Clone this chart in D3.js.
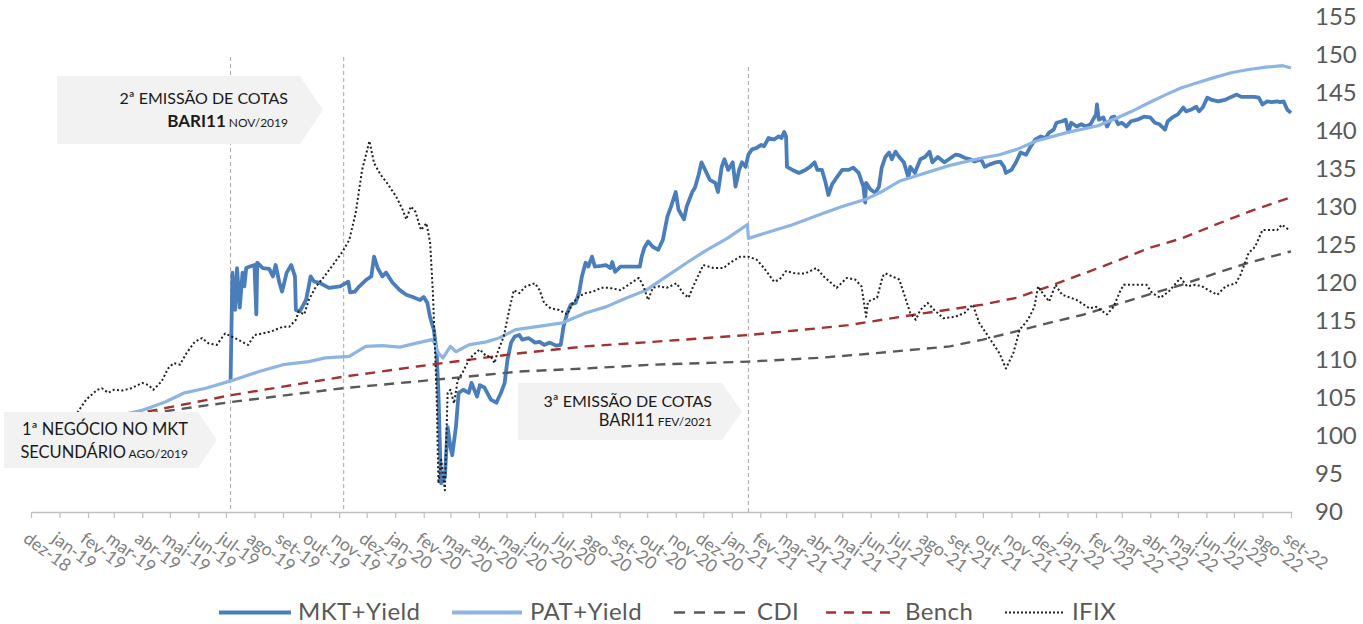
<!DOCTYPE html>
<html lang="pt-BR">
<head>
<meta charset="utf-8">
<title>BARI11 - MKT+Yield x PAT+Yield</title>
<script src="https://cdn.jsdelivr.net/npm/d3@7"></script>
<style>
  html, body { margin: 0; padding: 0; background: #fff; }
  svg { display: block; font-family: Lato, "Open Sans", "DejaVu Sans", sans-serif; }
</style>
</head>
<body>
<svg id="chart" width="1363" height="624"></svg>
<script>
//--------------------- data
const monthNames = ["jan","fev","mar","abr","mai","jun","jul","ago","set","out","nov","dez"];
const yTicks = [90, 95, 100, 105, 110, 115, 120, 125, 130, 135, 140, 145, 150, 155];

const mktDates = [
  "2019-07-06","2019-07-08","2019-07-11","2019-07-13","2019-07-16","2019-07-19","2019-07-21","2019-07-23","2019-07-27","2019-08-01",
  "2019-08-03","2019-08-04","2019-08-10","2019-08-17","2019-08-21","2019-08-24","2019-08-28","2019-08-31","2019-09-05","2019-09-10",
  "2019-09-14","2019-09-15","2019-09-19","2019-09-22","2019-09-26","2019-09-29","2019-10-01","2019-10-05","2019-10-10","2019-10-21",
  "2019-11-02","2019-11-11","2019-11-13","2019-11-18","2019-11-23","2019-12-01","2019-12-06","2019-12-09","2019-12-13","2019-12-18",
  "2019-12-22","2019-12-29","2020-01-06","2020-01-13","2020-01-20","2020-01-28","2020-02-01","2020-02-05","2020-02-08","2020-02-12",
  "2020-02-15","2020-02-17","2020-02-19","2020-02-20","2020-02-24","2020-02-27","2020-03-01","2020-03-03","2020-03-07","2020-03-10",
  "2020-03-15","2020-03-21","2020-03-24","2020-03-30","2020-04-02","2020-04-07","2020-04-14","2020-04-20","2020-04-25","2020-04-29",
  "2020-05-02","2020-05-06","2020-05-10","2020-05-15","2020-05-18","2020-05-25","2020-06-01","2020-06-06","2020-06-11","2020-06-17",
  "2020-06-24","2020-06-29","2020-07-02","2020-07-06","2020-07-10","2020-07-15","2020-07-19","2020-07-22","2020-07-26","2020-07-29",
  "2020-08-02","2020-08-05","2020-08-12","2020-08-17","2020-08-22","2020-08-24","2020-08-27","2020-09-02","2020-09-13","2020-09-23",
  "2020-09-25","2020-09-28","2020-10-02","2020-10-07","2020-10-13","2020-10-18","2020-10-23","2020-10-27","2020-11-01","2020-11-04",
  "2020-11-10","2020-11-13","2020-11-19","2020-11-22","2020-11-26","2020-11-29","2020-12-03","2020-12-08","2020-12-14","2020-12-17",
  "2020-12-21","2020-12-24","2020-12-28","2021-01-02","2021-01-05","2021-01-09","2021-01-12","2021-01-16","2021-01-19","2021-01-23",
  "2021-01-28","2021-02-02","2021-02-05","2021-02-10","2021-02-16","2021-02-21","2021-02-24","2021-02-27","2021-03-01","2021-03-02",
  "2021-03-08","2021-03-15","2021-03-22","2021-03-27","2021-04-01","2021-04-04","2021-04-09","2021-04-13","2021-04-16","2021-04-20",
  "2021-04-25","2021-05-01","2021-05-08","2021-05-13","2021-05-19","2021-05-24","2021-05-26","2021-05-27","2021-06-01","2021-06-06",
  "2021-06-10","2021-06-13","2021-06-17","2021-06-21","2021-06-24","2021-06-28","2021-07-02","2021-07-07","2021-07-12","2021-07-14",
  "2021-07-19","2021-07-25","2021-07-30","2021-08-04","2021-08-07","2021-08-13","2021-08-20","2021-08-25","2021-09-01","2021-09-06",
  "2021-09-11","2021-09-17","2021-09-22","2021-09-29","2021-10-03","2021-10-08","2021-10-15","2021-10-20","2021-10-24","2021-10-26",
  "2021-11-01","2021-11-06","2021-11-11","2021-11-17","2021-11-22","2021-11-27","2021-12-03","2021-12-08","2021-12-12","2021-12-17",
  "2021-12-20","2021-12-26","2021-12-30","2022-01-02","2022-01-05","2022-01-11","2022-01-16","2022-01-21","2022-01-26","2022-02-01",
  "2022-02-02","2022-02-04","2022-02-09","2022-02-13","2022-02-18","2022-02-21","2022-02-25","2022-03-01","2022-03-06","2022-03-11",
  "2022-03-18","2022-03-25","2022-04-01","2022-04-06","2022-04-11","2022-04-17","2022-04-20","2022-04-25","2022-05-01","2022-05-07",
  "2022-05-10","2022-05-15","2022-05-21","2022-05-24","2022-05-28","2022-06-02","2022-06-07","2022-06-14","2022-06-21","2022-06-28",
  "2022-07-04","2022-07-09","2022-07-16","2022-07-23","2022-07-28","2022-08-01","2022-08-06","2022-08-11","2022-08-17","2022-08-20",
  "2022-08-24","2022-08-28","2022-09-01"
];
const mktValues = [
  107.2,121.4,116.5,122.0,116.8,121.4,119.6,122.0,122.2,122.4,
  115.9,122.7,122.0,121.9,120.9,122.4,120.1,118.9,121.4,122.4,
  120.9,116.5,116.3,116.9,117.8,119.6,120.9,120.2,120.1,119.4,
  119.6,120.2,118.8,118.9,119.6,120.5,120.9,123.5,122.0,120.9,
  121.4,120.1,119.1,118.5,118.2,117.8,118.2,117.4,115.5,113.9,
  111.0,105.6,96.8,93.7,94.5,101.1,98.5,97.4,101.1,105.6,
  106.0,105.6,106.9,105.1,106.6,106.3,104.7,104.3,105.6,106.9,
  109.9,112.2,113.0,113.2,112.6,112.8,112.2,112.3,111.9,112.2,
  111.8,111.9,114.3,116.1,117.2,117.4,118.8,120.9,122.7,122.2,
  123.5,122.2,122.3,122.4,122.0,122.8,121.5,122.2,122.2,122.2,
  123.5,124.7,125.5,124.8,124.4,125.7,128.8,130.1,132.0,129.7,
  128.4,130.1,132.0,132.6,134.3,135.9,134.9,133.6,133.2,132.0,
  135.3,136.3,134.9,135.9,132.7,134.9,135.9,135.3,136.9,137.6,
  137.8,138.2,138.0,139.1,138.9,139.3,139.1,139.9,139.3,135.3,
  134.9,134.5,134.9,135.3,135.9,134.9,134.9,133.2,131.6,133.0,
  133.9,134.9,134.9,135.2,134.5,132.7,130.6,133.2,132.3,131.9,
  132.7,135.2,136.6,137.2,136.3,137.3,136.6,135.9,133.9,135.3,
  134.5,136.3,136.6,137.3,135.9,136.6,135.9,136.3,136.9,136.8,
  136.5,136.3,136.0,136.3,135.3,135.6,135.9,136.0,135.3,134.5,
  134.9,135.9,137.2,136.9,138.0,138.9,139.3,139.1,139.8,140.2,
  141.1,141.3,141.5,139.9,141.1,140.6,140.9,140.6,140.9,142.2,
  143.5,141.5,141.8,140.6,141.8,141.9,140.9,141.1,140.6,141.3,
  141.5,141.9,141.8,141.1,140.9,140.2,141.3,141.8,142.2,143.1,
  142.6,142.8,143.2,142.6,143.1,144.4,144.1,143.9,144.1,144.5,
  144.8,144.5,144.5,144.5,144.4,143.5,143.9,143.8,143.9,143.8,
  143.9,142.8,142.4
];

const patDates = [
  "2018-12-01","2019-04-01","2019-04-26","2019-05-17","2019-06-09","2019-07-07","2019-08-06","2019-09-01","2019-09-29","2019-10-17",
  "2019-11-12","2019-11-30","2019-12-18","2020-01-06","2020-01-23","2020-02-10","2020-02-13","2020-02-17","2020-02-22","2020-03-01",
  "2020-03-07","2020-03-21","2020-04-09","2020-04-23","2020-05-11","2020-06-03","2020-07-01","2020-07-26","2020-08-17","2020-09-09",
  "2020-09-30","2020-10-22","2020-11-13","2020-12-05","2020-12-27","2021-01-18","2021-01-19","2021-02-12","2021-03-08","2021-04-06",
  "2021-05-01","2021-05-26","2021-06-14","2021-07-02","2021-07-20","2021-08-26","2021-10-01","2021-10-19","2021-11-07","2021-11-28",
  "2021-12-31","2022-02-03","2022-02-23","2022-03-12","2022-03-30","2022-04-18","2022-05-05","2022-05-23","2022-06-11","2022-06-29",
  "2022-07-17","2022-08-05","2022-08-23","2022-09-01"
];
const patValues = [
  100.0,103.3,104.4,105.6,106.2,107.2,108.4,109.3,109.7,110.2,
  110.4,111.7,111.8,111.6,112.1,112.6,112.1,110.8,110.2,111.7,
  111.0,111.9,112.3,112.8,113.9,114.3,114.8,116.1,116.9,118.1,
  119.1,120.9,122.7,124.4,125.9,127.7,125.9,126.8,127.7,129.0,
  130.1,131.0,132.1,133.4,134.1,135.5,136.5,136.9,137.6,138.7,
  139.8,140.7,141.7,142.6,143.7,144.8,145.7,146.4,147.1,147.7,
  148.1,148.4,148.6,148.3
];

const cdiDates = [
  "2018-12-01","2019-04-15","2019-07-07","2019-11-05","2020-02-12","2020-05-15","2020-07-26","2020-10-07","2021-01-19","2021-04-06",
  "2021-05-27","2021-08-26","2021-10-01","2021-11-07","2021-12-12","2022-01-19","2022-02-23","2022-03-30","2022-05-05","2022-06-11",
  "2022-07-17","2022-09-01"
];
const cdiValues = [
  100.0,103.0,104.4,106.2,107.3,108.4,108.8,109.3,109.7,110.2,
  110.7,111.7,112.6,113.7,114.8,115.9,117.2,118.5,119.8,121.3,
  122.7,124.2
];

const benchDates = [
  "2018-12-01","2019-04-05","2019-07-07","2019-11-05","2020-01-27","2020-05-15","2020-07-26","2020-10-07","2021-01-19","2021-04-06",
  "2021-05-08","2021-07-20","2021-10-01","2021-11-07","2021-12-12","2022-01-19","2022-02-23","2022-03-30","2022-05-05","2022-06-11",
  "2022-07-17","2022-09-01"
];
const benchValues = [
  100.0,103.1,105.3,107.7,109.1,110.8,111.7,112.3,113.2,114.1,
  114.5,115.9,117.2,118.1,119.6,121.3,122.9,124.6,125.9,127.7,
  129.4,131.3
];

const ifixDates = [
  "2018-12-01","2019-01-08","2019-01-21","2019-01-30","2019-02-11","2019-02-16","2019-02-23","2019-03-01","2019-03-10","2019-03-20",
  "2019-04-01","2019-04-08","2019-04-13","2019-04-22","2019-04-29","2019-05-05","2019-05-12","2019-05-19","2019-05-28","2019-06-05",
  "2019-06-12","2019-06-21","2019-06-30","2019-07-07","2019-07-14","2019-07-25","2019-08-01","2019-08-10","2019-08-20","2019-09-01",
  "2019-09-08","2019-09-15","2019-09-18","2019-09-24","2019-09-29","2019-10-07","2019-10-16","2019-10-24","2019-11-05","2019-11-12",
  "2019-11-19","2019-11-26","2019-12-04","2019-12-09","2019-12-16","2019-12-23","2020-01-02","2020-01-09","2020-01-13","2020-01-18",
  "2020-01-23","2020-01-29","2020-02-04","2020-02-08","2020-02-11","2020-02-15","2020-02-17","2020-02-20","2020-02-24","2020-02-27",
  "2020-03-01","2020-03-05","2020-03-09","2020-03-14","2020-03-21","2020-03-26","2020-04-02","2020-04-09","2020-04-14","2020-04-18",
  "2020-04-21","2020-04-28","2020-05-04","2020-05-09","2020-05-15","2020-05-22","2020-06-01","2020-06-06","2020-06-11","2020-06-18",
  "2020-06-27","2020-07-06","2020-07-12","2020-07-19","2020-07-26","2020-08-03","2020-08-12","2020-08-21","2020-09-02","2020-09-13",
  "2020-09-22","2020-09-27","2020-10-02","2020-10-07","2020-10-14","2020-10-22","2020-11-02","2020-11-09","2020-11-15","2020-11-20",
  "2020-12-01","2020-12-12","2020-12-23","2020-12-30","2021-01-10","2021-01-19","2021-01-28","2021-02-05","2021-02-16","2021-02-22",
  "2021-03-01","2021-03-11","2021-03-22","2021-04-03","2021-04-11","2021-04-25","2021-05-06","2021-05-15","2021-05-22","2021-05-27",
  "2021-05-29","2021-06-08","2021-06-14","2021-06-17","2021-07-02","2021-07-07","2021-07-14","2021-07-20","2021-07-25","2021-08-02",
  "2021-08-09","2021-08-19","2021-09-01","2021-09-11","2021-09-20","2021-09-27","2021-10-08","2021-10-19","2021-10-26","2021-11-03",
  "2021-11-10","2021-11-19","2021-11-26","2021-11-30","2021-12-05","2021-12-12","2021-12-19","2021-12-26","2022-01-11","2022-01-25",
  "2022-02-01","2022-02-13","2022-02-20","2022-02-27","2022-03-03","2022-03-15","2022-03-28","2022-04-03","2022-04-12","2022-04-21",
  "2022-04-26","2022-05-04","2022-05-11","2022-05-20","2022-05-27","2022-06-06","2022-06-13","2022-06-22","2022-07-03","2022-07-08",
  "2022-07-13","2022-07-17","2022-07-24","2022-08-01","2022-08-08","2022-08-17","2022-08-22","2022-08-30"
];
const ifixValues = [
  100.0,101.5,103.1,104.7,106.0,106.2,105.6,106.0,105.9,106.2,
  106.9,106.6,106.0,107.1,108.8,109.5,109.3,110.8,112.3,112.8,
  112.1,111.9,113.4,113.0,112.6,111.9,113.2,113.4,113.7,114.3,
  114.3,115.2,116.3,115.9,117.8,119.6,120.9,122.2,124.2,125.7,
  129.2,134.9,138.7,135.8,134.3,133.2,131.4,129.7,128.4,130.1,
  129.4,127.0,127.9,125.3,118.7,105.6,93.7,96.8,92.8,105.6,
  106.0,104.2,107.3,108.2,109.9,110.6,111.3,110.4,110.4,109.5,
  110.8,113.0,116.5,119.1,118.7,119.6,120.0,119.1,117.4,116.7,
  116.5,115.9,117.4,118.3,118.7,118.9,119.4,119.4,119.1,120.0,
  120.7,119.6,117.8,119.4,119.6,119.4,120.0,118.7,118.1,119.6,
  122.4,122.0,122.0,122.7,123.5,123.5,123.1,122.0,120.2,120.5,
  121.6,121.3,121.3,122.0,120.9,119.4,120.7,120.5,119.6,115.6,
  117.6,118.1,120.9,121.3,120.5,118.7,116.1,115.2,116.5,117.4,
  116.5,115.4,115.6,116.1,117.2,114.8,112.8,110.8,108.8,110.8,
  113.9,115.2,116.9,119.6,118.7,117.6,119.8,118.5,117.8,116.7,
  116.9,115.9,116.9,118.9,119.8,119.8,119.8,118.7,118.1,118.9,
  119.6,120.7,119.6,119.8,119.6,118.9,118.5,119.6,120.0,121.1,
  122.7,124.0,124.8,127.0,127.0,127.0,127.7,127.0
];

// dates of the events marked with vertical lines
const eventDates = ["2019-07-06", "2019-11-06", "2021-01-19"];

//--------------------- setup
const parse = d3.utcParse("%Y-%m-%d");
const svg = d3.select("#chart");

const x = d3.scaleUtc()
  .domain([parse("2018-12-01"), parse("2022-09-01")])
  .range([31, 1291]);
const y = d3.scaleLinear()
  .domain([90, 155])
  .range([511.5, 17]);

const toPoints = (dates, values) => dates.map((d, i) => ({ date: parse(d), value: values[i] }));

const series = [
  { name: "MKT+Yield", data: toPoints(mktDates, mktValues),     color: "#4a7ebb", width: 3.8, dash: null },
  { name: "PAT+Yield", data: toPoints(patDates, patValues),     color: "#8eb4e3", width: 3.2, dash: null },
  { name: "CDI",       data: toPoints(cdiDates, cdiValues),     color: "#595959", width: 2.4, dash: "10 7" },
  { name: "Bench",     data: toPoints(benchDates, benchValues), color: "#a33232", width: 2.4, dash: "10 7" },
  { name: "IFIX",      data: toPoints(ifixDates, ifixValues),   color: "#1f1f1f", width: 2.0, dash: "2 2.4" }
];

//--------------------- event lines
const eventTops = [57, 57, 67];
svg.append("g").selectAll("line")
  .data(eventDates)
  .join("line")
  .attr("x1", d => x(parse(d))).attr("x2", d => x(parse(d)))
  .attr("y1", (d, i) => eventTops[i]).attr("y2", 512)
  .attr("stroke", "#a6a6a6")
  .attr("stroke-width", 1)
  .attr("stroke-dasharray", "4 3");

//--------------------- series
const line = d3.line()
  .x(d => x(d.date))
  .y(d => y(d.value));

svg.append("g").selectAll("path")
  .data(series)
  .join("path")
  .attr("d", d => line(d.data))
  .attr("fill", "none")
  .attr("stroke", d => d.color)
  .attr("stroke-width", d => d.width)
  .attr("stroke-dasharray", d => d.dash)
  .attr("stroke-linejoin", "round");

//--------------------- x axis
const monthTicks = d3.utcMonth.range(parse("2018-12-01"), parse("2022-09-02"));
const xAxis = d3.axisBottom(x)
  .tickValues(monthTicks)
  .tickSize(6)
  .tickSizeOuter(0)
  .tickFormat(d => monthNames[d.getUTCMonth()] + "-" + String(d.getUTCFullYear()).slice(2));

const gx = svg.append("g")
  .attr("transform", "translate(0,512)")
  .call(xAxis);
gx.select(".domain").attr("stroke", "#bfbfbf").attr("stroke-width", 1.5);
gx.selectAll(".tick line").attr("stroke", "#bfbfbf").attr("stroke-width", 1.2);
gx.selectAll(".tick text")
  .attr("x", 0).attr("y", 0).attr("dy", "0.71em")
  .attr("text-anchor", "start")
  .attr("transform", "translate(-2,19) rotate(36)")
  .attr("fill", "#808080")
  .style("font-size", "17.5px")
  .style("font-family", "Lato, 'Open Sans', sans-serif");

//--------------------- y axis (right, labels only)
const gy = svg.append("g")
  .attr("transform", "translate(1312,0)")
  .call(d3.axisRight(y).tickValues(yTicks).tickSize(0).tickPadding(3));
gy.select(".domain").remove();
gy.selectAll(".tick text")
  .attr("fill", "#595959")
  .style("font-size", "24px")
  .style("font-family", "Lato, 'Open Sans', sans-serif");

//--------------------- callouts
const callouts = [
  { box: [4, 198, 412, 468], tip: [217, 440], right: 188,
    lines: [{ y: 435, parts: [["1ª NEGÓCIO NO MKT", 16.5, 400]] },
            { y: 458, parts: [["SECUNDÁRIO", 16.5, 400], [" AGO/2019", 12, 400]] }] },
  { box: [57, 300, 76, 144], tip: [323, 110], right: 288,
    lines: [{ y: 104, parts: [["2ª EMISSÃO DE COTAS", 16, 400]] },
            { y: 127, parts: [["BARI11", 17, 700], [" NOV/2019", 12, 400]] }] },
  { box: [518, 722, 383, 440], tip: [742, 411.5], right: 712,
    lines: [{ y: 407, parts: [["3ª EMISSÃO DE COTAS", 16, 400]] },
            { y: 426, parts: [["BARI11", 16.5, 400], [" FEV/2021", 12, 400]] }] }
];

const gc = svg.append("g");
callouts.forEach(c => {
  const [x0, x1, y0, y1] = c.box;
  gc.append("path")
    .attr("d", `M${x0},${y0}H${x1}L${c.tip[0]},${c.tip[1]}L${x1},${y1}H${x0}Z`)
    .attr("fill", "#f2f2f2");
  c.lines.forEach(l => {
    const t = gc.append("text")
      .attr("x", c.right).attr("y", l.y)
      .attr("text-anchor", "end")
      .attr("fill", "#1a1a1a");
    l.parts.forEach(p => {
      t.append("tspan")
        .text(p[0])
        .style("font-size", p[1] + "px")
        .style("font-weight", p[2]);
    });
  });
});

//--------------------- legend
const legendItems = [
  { x0: 219, x1: 291, tx: 298 },
  { x0: 452, x1: 522, tx: 530 },
  { x0: 674, x1: 746, tx: 757 },
  { x0: 826, x1: 892, tx: 905 },
  { x0: 1005, x1: 1063, tx: 1072 }
];
const legendDash = [null, null, "11 9", "10 8", "2 2"];
const gl = svg.append("g");
series.forEach((s, i) => {
  const it = legendItems[i];
  gl.append("line")
    .attr("x1", it.x0).attr("x2", it.x1)
    .attr("y1", 612.5).attr("y2", 612.5)
    .attr("stroke", s.color)
    .attr("stroke-width", i < 2 ? 4 : (i === 4 ? 2 : 2.6))
    .attr("stroke-dasharray", legendDash[i]);
  gl.append("text")
    .attr("x", it.tx).attr("y", 620)
    .attr("fill", "#595959")
    .style("font-size", "24px")
    .style("letter-spacing", "0.4px")
    .text(s.name);
});
</script>
</body>
</html>
